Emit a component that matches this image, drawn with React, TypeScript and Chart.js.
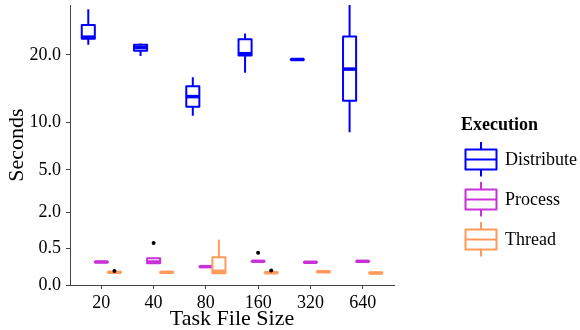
import React, { useEffect, useRef } from "react";
import { Chart, registerables } from "chart.js";
Chart.register(...registerables);

// ---------- data ----------
const categories = ["20", "40", "80", "160", "320", "640"];
const executions = ["Distribute", "Process", "Thread"];
const yTickValues = [0, 0.5, 2, 5, 10, 20];

const distributeLow = [21.8, 19.8, 10.8, 17.0, 19.1, 8.8];
const distributeQ1 = [22.9, 20.7, 12.0, 19.9, 19.15, 12.8];
const distributeMedian = [23.2, 21.3, 13.4, 20.2, 19.2, 17.6];
const distributeQ3 = [25.5, 21.8, 14.9, 22.8, 19.25, 23.3];
const distributeHigh = [28.7, 22.0, 16.3, 23.9, 19.3, 29.6];

const processLow = [0.19, 0.17, 0.12, 0.205, 0.19, 0.205];
const processQ1 = [0.195, 0.18, 0.125, 0.207, 0.193, 0.207];
const processMedian = [0.2, 0.2, 0.127, 0.212, 0.195, 0.212];
const processQ3 = [0.205, 0.27, 0.13, 0.215, 0.198, 0.215];
const processHigh = [0.215, 0.28, 0.132, 0.218, 0.2, 0.218];

const threadLow = [0.058, 0.057, 0.05, 0.055, 0.064, 0.052];
const threadQ1 = [0.059, 0.058, 0.052, 0.056, 0.065, 0.053];
const threadMedian = [0.061, 0.061, 0.071, 0.057, 0.067, 0.054];
const threadQ3 = [0.063, 0.063, 0.29, 0.059, 0.069, 0.056];
const threadHigh = [0.065, 0.065, 0.77, 0.06, 0.07, 0.057];

// outliers: [category index, value]
const processOutliers: [number, number][] = [[1, 0.667], [3, 0.394]];
const threadOutliers: [number, number][] = [[0, 0.074], [3, 0.08]];

const boxStats = [
  { low: distributeLow, q1: distributeQ1, med: distributeMedian, q3: distributeQ3, high: distributeHigh },
  { low: processLow, q1: processQ1, med: processMedian, q3: processQ3, high: processHigh },
  { low: threadLow, q1: threadQ1, med: threadMedian, q3: threadQ3, high: threadHigh },
];
const outlierSets = [[] as [number, number][], processOutliers, threadOutliers];

const COLORS = ["#0000FF", "#C832D8", "#FF9A5A"];
const FONT = "'Liberation Serif', 'DejaVu Serif', serif";
const DODGE = 0.25;
const BOXW = 0.25;

const boxPlugin = {
  id: "boxes",
  beforeDatasetsDraw(chart: any) {
    const ctx = chart.ctx;
    const xs = chart.scales.x;
    const ys = chart.scales.y;
    const yp = (v: number) => ys.getPixelForValue(Math.sqrt(v));
    const half = (xs.getPixelForValue(BOXW) - xs.getPixelForValue(0)) / 2;
    ctx.save();
    ctx.lineJoin = "round";
    ctx.lineCap = "butt";
    boxStats.forEach((s, e) => {
      ctx.strokeStyle = COLORS[e];
      categories.forEach((_, i) => {
        const xc = xs.getPixelForValue(i + (e - 1) * DODGE);
        const yLow = yp(s.low[i]);
        const yQ1 = yp(s.q1[i]);
        const yMed = yp(s.med[i]);
        const yQ3 = yp(s.q3[i]);
        const yHigh = yp(s.high[i]);
        ctx.lineWidth = 2;
        ctx.beginPath();
        ctx.moveTo(xc, yHigh);
        ctx.lineTo(xc, yQ3);
        ctx.moveTo(xc, yQ1);
        ctx.lineTo(xc, yLow);
        ctx.stroke();
        ctx.fillStyle = "#ffffff";
        ctx.fillRect(xc - half, yQ3, 2 * half, yQ1 - yQ3);
        ctx.beginPath();
        ctx.rect(xc - half, yQ3, 2 * half, yQ1 - yQ3);
        ctx.stroke();
        ctx.lineWidth = 3.5;
        ctx.beginPath();
        ctx.moveTo(xc - half, yMed);
        ctx.lineTo(xc + half, yMed);
        ctx.stroke();
      });
    });
    ctx.restore();
  },
  afterDraw(chart: any) {
    const ctx = chart.ctx;
    const area = chart.chartArea;
    ctx.save();
    ctx.fillStyle = "#000";
    // axis titles
    ctx.font = `22px ${FONT}`;
    ctx.textAlign = "center";
    ctx.textBaseline = "alphabetic";
    ctx.fillText("Task File Size", (area.left + area.right) / 2, 325);
    ctx.save();
    ctx.translate(23, (area.top + area.bottom) / 2);
    ctx.rotate(-Math.PI / 2);
    ctx.fillText("Seconds", 0, 0);
    ctx.restore();
    // legend
    ctx.textAlign = "left";
    ctx.font = `bold 18px ${FONT}`;
    ctx.fillText("Execution", 461, 130);
    ctx.font = `18px ${FONT}`;
    executions.forEach((name, k) => {
      const cy = 159.5 + k * 40;
      ctx.strokeStyle = COLORS[k];
      ctx.lineWidth = 2;
      ctx.lineJoin = "round";
      ctx.beginPath();
      ctx.moveTo(481, cy - 17.5);
      ctx.lineTo(481, cy - 10);
      ctx.moveTo(481, cy + 10);
      ctx.lineTo(481, cy + 17);
      ctx.stroke();
      ctx.beginPath();
      ctx.rect(465.5, cy - 10, 31, 20);
      ctx.stroke();
      ctx.beginPath();
      ctx.moveTo(465.5, cy);
      ctx.lineTo(496.5, cy);
      ctx.stroke();
      ctx.fillStyle = "#000";
      ctx.textBaseline = "middle";
      ctx.fillText(name, 505, cy + 1);
    });
    ctx.restore();
  },
};

export default function App() {
  const ref = useRef<HTMLCanvasElement | null>(null);
  useEffect(() => {
    document.body.style.margin = "0";
    const canvas = ref.current;
    if (!canvas) return;
    const allHigh = [...distributeHigh, ...processHigh, ...threadHigh];
    const yMax = Math.sqrt(Math.max(...allHigh));
    const datasets = executions.map((name, e) => ({
      label: name,
      data: outlierSets[e].map(([i, v]) => ({ x: i + (e - 1) * DODGE, y: Math.sqrt(v) })),
      backgroundColor: "#000",
      borderColor: "#000",
      pointRadius: 2,
      pointBorderWidth: 0,
    }));
    const axisColor = "#444";
    const chart = new Chart(canvas, {
      type: "scatter",
      data: { datasets },
      options: {
        responsive: false,
        animation: false,
        layout: { padding: { left: 0, top: 5, right: 186, bottom: 0 } },
        plugins: { legend: { display: false }, tooltip: { enabled: false } },
        scales: {
          x: {
            type: "linear",
            min: -0.6,
            max: categories.length - 0.4,
            afterBuildTicks: (s: any) => {
              s.ticks = categories.map((_, i) => ({ value: i }));
            },
            afterFit: (s: any) => {
              s.height = 45;
              s.paddingLeft = 0;
              s.paddingRight = 0;
            },
            ticks: {
              autoSkip: false,
              maxRotation: 0,
              padding: 3,
              color: "#000",
              font: { family: FONT, size: 18 },
              callback: (v: any) => categories[Math.round(Number(v))] ?? "",
            },
            grid: { display: true, drawOnChartArea: false, drawTicks: true, tickLength: 4, color: axisColor, lineWidth: 1 },
            border: { display: true, color: axisColor, width: 1 },
          },
          y: {
            type: "linear",
            min: 0,
            max: yMax,
            afterBuildTicks: (s: any) => {
              s.ticks = yTickValues.map((v) => ({ value: Math.sqrt(v) }));
            },
            afterFit: (s: any) => {
              s.width = 70;
              s.paddingTop = 0;
              s.paddingBottom = 0;
            },
            ticks: {
              autoSkip: false,
              padding: 5,
              color: "#000",
              font: { family: FONT, size: 18 },
              callback: (v: any) => {
                const val = Number(v) * Number(v);
                return val.toFixed(1);
              },
            },
            grid: { display: true, drawOnChartArea: false, drawTicks: true, tickLength: 4, color: axisColor, lineWidth: 1 },
            border: { display: true, color: axisColor, width: 1 },
          },
        },
      },
      plugins: [boxPlugin],
    } as any);
    return () => chart.destroy();
  }, []);
  return <canvas ref={ref} width={580} height={330} style={{ display: "block", width: 580, height: 330 }} />;
}
